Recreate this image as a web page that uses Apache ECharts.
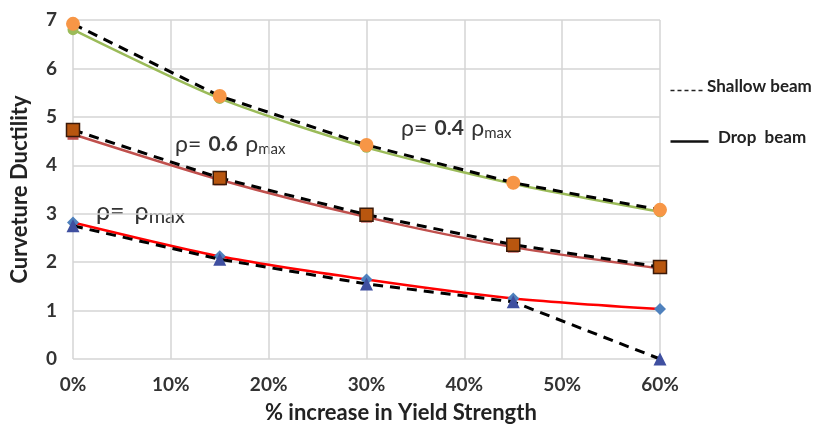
<!DOCTYPE html>
<html>
<head>
<meta charset="utf-8">
<script src="https://cdn.jsdelivr.net/npm/echarts@6/dist/echarts.min.js"></script>
<style>
  html, body { margin: 0; padding: 0; background: #fff; }
  #chart { width: 819px; height: 432px; }
</style>
</head>
<body>
<div id="chart"></div>
<script>
// Percent increase in yield strength (x positions)
const increase = [0, 15, 30, 45, 60];

// rho = 0.4 rho_max
const shallow04 = [6.92, 5.43, 4.42, 3.64, 3.08];
const drop04    = [6.80, 5.38, 4.37, 3.62, 3.04];
// rho = 0.6 rho_max
const shallow06 = [4.73, 3.74, 2.98, 2.36, 1.90];
const drop06    = [4.64, 3.70, 2.93, 2.31, 1.87];
// rho = rho_max
const shallow10 = [2.75, 2.06, 1.55, 1.18, 0.00];
const drop10    = [2.82, 2.12, 1.64, 1.25, 1.03];

const yTicks = [0, 1, 2, 3, 4, 5, 6, 7];

const pairs = (ys) => increase.map((x, i) => [x, ys[i]]);

const FONT = 'Lato';
const dashed = { color: '#000', width: 3, type: [10, 7] };

const labelRich = {
  r: { fontFamily: FONT, fontSize: 23, fill: '#333', fontWeight: 'normal' },
  b: { fontFamily: FONT, fontSize: 21, fill: '#333', fontWeight: 'bold', padding: [0, 4, 0, 4] },
  s: { fontFamily: FONT, fontSize: 15, fill: '#333', padding: [10, 0, 0, 0] }
};

const chart = echarts.init(document.getElementById('chart'), null, { renderer: 'canvas' });

chart.setOption({
  animation: false,
  backgroundColor: '#fff',
  grid: { left: 73, right: 159, top: 20, bottom: 73 },
  xAxis: {
    type: 'value', min: 0, max: 60, interval: 10,
    axisLine: { show: false }, axisTick: { show: false },
    splitLine: { show: true, lineStyle: { color: '#d4d4d4', width: 1.5 } },
    axisLabel: { formatter: '{value}%', color: '#333', fontFamily: FONT, fontWeight: 'bold', fontSize: 19, margin: 16 }
  },
  yAxis: {
    type: 'value', min: yTicks[0], max: yTicks[yTicks.length - 1], interval: 1,
    axisLine: { show: false }, axisTick: { show: false },
    splitLine: { show: true, lineStyle: { color: '#d4d4d4', width: 1.5 } },
    axisLabel: { color: '#333', fontFamily: FONT, fontWeight: 'bold', fontSize: 19, margin: 16 },
    name: 'Curveture Ductility', nameLocation: 'middle', nameGap: 42,
    nameTextStyle: { color: '#222', fontFamily: FONT, fontWeight: 'bold', fontSize: 22 }
  },
  series: [
    // drop beams (solid, smoothed)
    { type: 'line', data: pairs(drop04), smooth: 0.25, lineStyle: { color: '#9bbb59', width: 2.5 },
      symbol: 'circle', symbolSize: 11, itemStyle: { color: '#9bbb59' }, z: 2 },
    { type: 'line', data: pairs(drop06), smooth: 0.25, lineStyle: { color: '#c0504d', width: 2.5 },
      symbol: 'rect', symbolSize: 11, itemStyle: { color: '#c0504d' }, z: 2 },
    { type: 'line', data: pairs(drop10), smooth: 0.25, lineStyle: { color: '#ff0000', width: 2.5 },
      symbol: 'diamond', symbolSize: 12, itemStyle: { color: '#4f81bd' }, z: 2 },
    // shallow beams (dashed)
    { type: 'line', data: pairs(shallow04), lineStyle: dashed,
      symbol: 'circle', symbolSize: 14, itemStyle: { color: '#f79646' }, z: 3 },
    { type: 'line', data: pairs(shallow06), lineStyle: dashed,
      symbol: 'rect', symbolSize: 13, itemStyle: { color: '#b8560f', borderColor: '#3a1a0a', borderWidth: 1.5 }, z: 3 },
    { type: 'line', data: pairs(shallow10), lineStyle: dashed,
      symbol: 'triangle', symbolSize: 13, itemStyle: { color: '#3f4fa0' }, z: 3 }
  ],
  graphic: [
    // legend
    { type: 'line', left: 668, top: 88, shape: { x1: 0, y1: 0, x2: 34, y2: 0 },
      style: { stroke: '#222', lineWidth: 1.5, lineDash: [4, 3] } },
    { type: 'text', left: 707, top: 78, style: { text: 'Shallow beam', fill: '#222', font: 'bold 17px Lato' } },
    { type: 'line', left: 668, top: 139, shape: { x1: 0, y1: 0, x2: 38, y2: 0 },
      style: { stroke: '#111', lineWidth: 2.5 } },
    { type: 'text', left: 718, top: 129, style: { text: 'Drop  beam', fill: '#222', font: 'bold 17px Lato' } },
    // x axis title
    { type: 'text', left: 265, top: 402, style: { text: '% increase in Yield Strength', fill: '#222', font: 'bold 22px Lato' } },
    // curve labels
    { type: 'text', left: 175, top: 133, style: { text: '{r|ρ=} {b|0.6} {r|ρ}{s|max}', rich: labelRich } },
    { type: 'text', left: 401, top: 117, style: { text: '{r|ρ=} {b|0.4} {r|ρ}{s|max}', rich: labelRich } },
    { type: 'text', left: 96, top: 199, style: {
        text: '{r|ρ=}   {r|ρ}{s|max}',
        rich: {
          r: { fontFamily: FONT, fontSize: 25, fill: '#333' },
          s: { fontFamily: FONT, fontSize: 20, fill: '#333', padding: [10, 0, 0, 0] }
        } } }
  ]
});
</script>
</body>
</html>
